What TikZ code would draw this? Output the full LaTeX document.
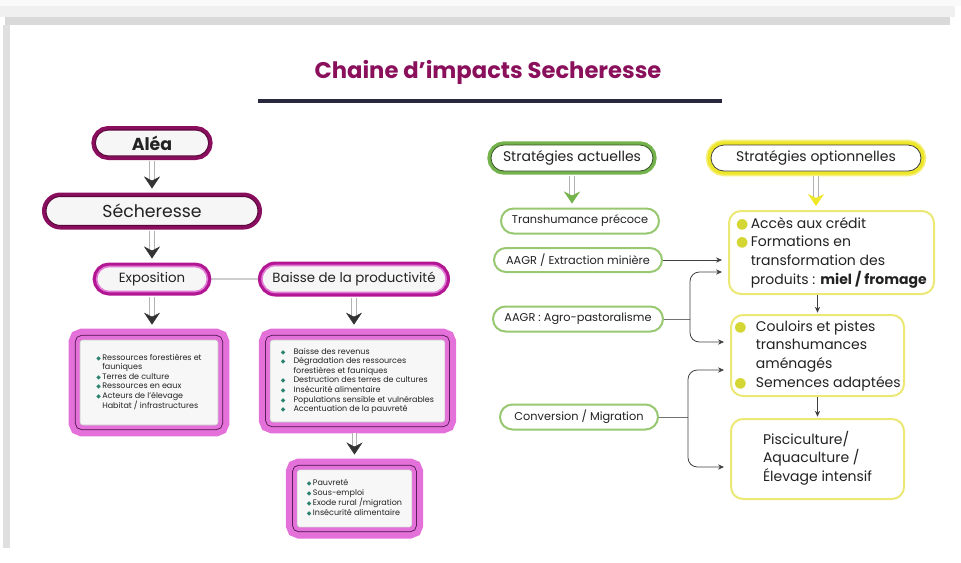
\documentclass[tikz,border=0pt]{standalone}
\usepackage{fontspec}
\setmainfont{Poppins}
\newfontfamily\symfont{DejaVu Sans}
\usepackage{tikz}
\usetikzlibrary{shapes.misc}
\usetikzlibrary{arrows.meta}
\usetikzlibrary{calc}
\usetikzlibrary{decorations.markings}
\usetikzlibrary{shadows}
\usepackage{xcolor}

\definecolor{titre}{RGB}{138,16,92}
\definecolor{alea}{RGB}{138,14,94}
\definecolor{aleain}{RGB}{92,6,60}
\definecolor{expo}{RGB}{178,22,146}
\definecolor{expoin}{RGB}{226,122,214}
\definecolor{listrose}{RGB}{228,112,218}
\definecolor{listsombre}{RGB}{74,18,74}
\definecolor{vert}{RGB}{116,178,76}
\definecolor{vertclair}{RGB}{152,200,114}
\definecolor{jaune}{RGB}{238,230,40}
\definecolor{jauneclair}{RGB}{236,232,118}
\definecolor{puceverte}{RGB}{212,214,52}
\definecolor{sarcelle}{RGB}{40,130,110}
\definecolor{regle}{RGB}{40,40,62}
\definecolor{texte}{RGB}{34,34,34}

\newcommand{\puce}{{\symfont\textcolor{sarcelle}{\scalebox{0.75}{◆}}}}
\newcommand{\rond}{{\symfont\textcolor{puceverte}{●}}}

\begin{document}
\begin{tikzpicture}[x=0.75pt, y=-0.75pt, text=texte]
        % ================= 样式定义 =================
        \tikzset{
            % 胶囊节点的公共部分
            pill/.style={rounded rectangle, inner sep=0pt, align=center, outer sep=3pt},
            % 阴影
            ombre/.style={drop shadow={shadow xshift=1.2pt, shadow yshift=-1.6pt, opacity=0.22}},
            % 深紫红胶囊 (Aléa, Sécheresse)
            aleapill/.style={pill, ombre, preaction={draw=alea, line width=6pt},
                draw=aleain, line width=0.8pt, fill=gray!7, font=\fontsize{13}{15}\selectfont},
            % 亮紫红胶囊 (Exposition, Baisse)
            expopill/.style={pill, ombre, preaction={draw=expo, line width=6pt},
                draw=expoin, line width=1.2pt, fill=gray!7, font=\fontsize{10}{12}\selectfont},
            % 绿色标题
            actpill/.style={pill, ombre, preaction={draw=vert, line width=5.5pt},
                draw=black!55!vert, line width=0.6pt, fill=white, font=\fontsize{10.5}{12}\selectfont},
            % 黄色标题
            optpill/.style={pill, ombre, preaction={draw=jaune!60, line width=8pt}, preaction={draw=jaune, line width=5.5pt},
                draw=black!75, line width=0.6pt, fill=white, font=\fontsize{10.5}{12}\selectfont},
            % 现有策略:细绿框
            choix/.style={rounded rectangle, inner sep=0pt, draw=vertclair, line width=1.5pt,
                fill=white, font=\fontsize{8.5}{10}\selectfont},
            % 可选策略:黄框
            optbox/.style={rectangle, rounded corners=9pt, draw=jauneclair, line width=1.5pt,
                fill=white, align=left, inner sep=0pt, font=\fontsize{10.5}{14}\selectfont},
            % 粉色列表框
            listbox/.style={rectangle, rounded corners=2pt, fill=gray!6, draw=gray!45, line width=0.4pt,
                preaction={draw=listrose, line width=17pt},
                preaction={draw=listsombre, line width=7.6pt},
                preaction={draw=listrose, line width=6.4pt},
                outer sep=8.5pt, align=left, inner sep=0pt, font=\fontsize{6}{7.2}\selectfont},
            % 空心箭杆 + 实心箭头
            fleche/.style={preaction={draw=gray!60, line width=3.8pt}, draw=white, line width=2.6pt,
                shorten <=1pt, shorten >=10pt,
                postaction={decorate, decoration={markings, mark=at position -3pt with
                    {\arrow{Stealth[length=9pt, width=12pt, inset=3pt, line width=0.4pt, color=#1]}}}}},
            % 细连线
            trait/.style={draw=black!55, line width=0.5pt},
            lien/.style={draw=black!75, line width=0.6pt, rounded corners=7pt,
                -{Stealth[length=4.5pt, width=4pt]}, shorten >=4.5pt}
        }

        % ================= 边框 =================
        \useasboundingbox (0,0) rectangle (961,562);
        \fill[gray!4] (0,0) rectangle (961,6);
        \fill[gray!12] (0,6) rectangle (955,17);
        \fill[gray!30] (5,17) rectangle (950,25);
        \fill[gray!25] (3,25) rectangle (10,548);

        % ================= 标题 =================
        \node[font=\fontsize{17}{20}\selectfont\bfseries, text=titre] (titre) at (488,72) {Chaine d’impacts Secheresse};
        \draw[regle, line width=2.3pt] (258,101) -- (722,101);

        % ================= 左侧:影响链 =================
        \node[aleapill, minimum width=85pt, minimum height=19.5pt, font=\fontsize{13}{15}\selectfont\bfseries] (alea) at (152,143) {Aléa};
        \node[aleapill, minimum width=159pt, minimum height=21.75pt] (seche) at (152,211) {Sécheresse};
        \node[expopill, minimum width=83pt, minimum height=18.75pt] (expo) at (152,279) {Exposition};
        \node[expopill, minimum width=138pt, minimum height=20.25pt] (baisse) at (354,279) {Baisse de la productivité};

        % 列表框
        \node[listbox, minimum width=103.5pt, minimum height=63.75pt] (expoliste) at (149,382.5) {%
            \begin{tabular}{@{}l@{\,}l@{}}
                \puce & Ressources forestières et\\
                      & fauniques\\
                \puce & Terres de culture\\
                \puce & Ressources en eaux\\
                \puce & Acteurs de l’élevage\\
                      & Habitat / infrastructures
            \end{tabular}};
        \node[listbox, minimum width=131pt, minimum height=61.5pt] (baisseliste) at (357.5,381) {%
            \begin{tabular}{@{}l@{\hspace{6pt}}l@{}}
                \puce & Baisse des revenus\\
                \puce & Dégradation des ressources\\
                      & forestières et fauniques\\
                \puce & Destruction des terres de cultures\\
                \puce & Insécurité alimentaire\\
                \puce & Populations sensible et vulnérables\\
                \puce & Accentuation de la pauvreté
            \end{tabular}};
        \node[listbox, minimum width=86pt, minimum height=43pt] (consequences) at (354.5,498.5) {%
            \begin{tabular}{@{}l@{\,}l@{}}
                \puce & Pauvreté\\
                \puce & Sous-emploi\\
                \puce & Exode rural /migration\\
                \puce & Insécurité alimentaire
            \end{tabular}};

        \draw[trait] (expo) -- (baisse);
        \draw[fleche=black!80] (alea.south) -- (seche.north);
        \draw[fleche=black!80] (seche.south) -- (expo.north);
        \draw[fleche=black!80] (expo.south) -- (expo.south |- expoliste.north);
        \draw[fleche=black!80] (baisse.south) -- (baisse.south |- baisseliste.north);
        \draw[fleche=black!80, shorten <=0pt] (consequences.north |- baisseliste.south) -- (consequences.north);

        % ================= 右侧:策略 =================
        \node[actpill, minimum width=121.5pt, minimum height=19.5pt] (actuelles) at (572,158) {Stratégies actuelles};
        \node[optpill, minimum width=157.5pt, minimum height=19.5pt] (option) at (816,158) {Stratégies optionnelles};

        \node[choix, minimum width=118.5pt, minimum height=18.75pt] (trans) at (580,221) {Transhumance précoce};
        \node[choix, minimum width=126pt, minimum height=18pt] (extr) at (578,260) {AAGR / Extraction minière};
        \node[choix, minimum width=127.5pt, minimum height=18.75pt] (agro) at (578,319) {AAGR : Agro-pastoralisme};
        \node[choix, minimum width=118.5pt, minimum height=18.75pt] (conv) at (579,417) {Conversion / Migration};

        \node[optbox, minimum width=153.75pt, minimum height=62.25pt] (opt1) at (831.5,252.5) {%
            \begin{tabular}{@{}l@{\,}l@{}}
                \rond & Accès aux crédit\\
                \rond & Formations en\\
                      & transformation des\\
                      & produits : \textbf{miel / fromage}
            \end{tabular}};
        \node[optbox, minimum width=129.75pt, minimum height=60.75pt] (opt2) at (817.5,355.5) {%
            \begin{tabular}{@{}l@{\hspace{7pt}}l@{}}
                \rond & Couloirs et pistes\\
                      & transhumances\\
                      & aménagés\\
                \rond & Semences adaptées
            \end{tabular}};
        \node[optbox, minimum width=129.75pt, minimum height=60pt] (opt3) at (817.5,459) {%
            \begin{tabular}{@{}l@{}}
                Pisciculture/\\
                Aquaculture /\\
                Élevage intensif
            \end{tabular}};

        % 标题下的箭头
        \draw[fleche=vert] (actuelles.south) -- (actuelles.south |- trans.north);
        \draw[fleche=jaune] (option.south) -- (option.south |- opt1.north);

        % 黄框之间
        \draw[lien, shorten >=1pt] (opt2.north |- opt1.south) -- (opt2.north);
        \draw[lien, shorten >=1pt] (opt2.south) -- (opt3.north);

        % 现有策略 -> 可选策略
        \draw[lien] (extr.east) -- (extr.east -| opt1.west);
        \coordinate (j1) at ($(agro.east)+(26,0)$);
        \coordinate (j2) at ($(conv.east)+(29,0)$);
        \draw[trait] (agro.east) -- (j1);
        \draw[lien] (j1) |- ($(opt1.west)+(0,19.5)$);
        \draw[lien] (j1) |- ($(opt2.west)+(0,-13.5)$);
        \draw[trait] (conv.east) -- (j2);
        \draw[lien] (j2) |- ($(opt2.west)+(0,14.5)$);
        \draw[lien] (j2) |- ($(opt3.west)+(0,8)$);

    \end{tikzpicture}
\end{document}
